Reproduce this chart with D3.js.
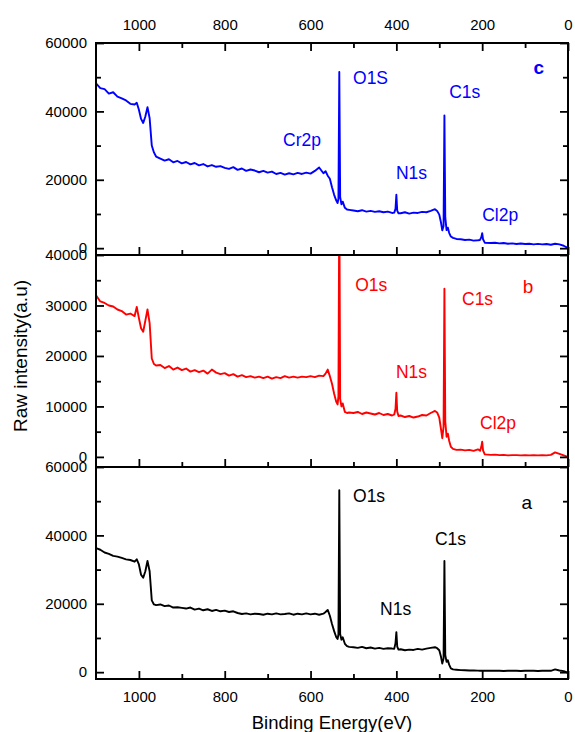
<!DOCTYPE html>
<html>
<head>
<meta charset="utf-8">
<script src="https://cdn.jsdelivr.net/npm/d3@7"></script>
<style>
  html, body { margin: 0; padding: 0; background: #fff; }
  svg { display: block; font-family: "Liberation Sans", Arial, sans-serif; }
</style>
</head>
<body>
<svg id="chart" width="575" height="732"></svg>
<script>
// ---------------- DATA ----------------
const energies = [
  1100,1090,1080,1070,1060,1050,1040,1030,1020,1010,
  1005,1000,995,990,985,980,975,970,965,960,
  950,940,930,920,910,900,890,880,870,860,850,840,830,820,810,800,790,780,770,760,750,740,730,720,710,700,690,680,670,660,650,640,630,620,610,600,590,580,570,
  565,560,555,550,545,540,537,535,533,531,528,525,520,515,510,
  500,490,480,470,460,450,440,430,420,410,
  405,402,400,398,395,
  390,380,370,360,350,340,330,320,310,
  305,300,296,293,290,288,286,283,280,277,273,268,260,
  250,240,230,220,210,
  205,202,200,198,194,
  180,170,160,150,140,130,120,110,100,90,80,70,60,50,40,30,20,10,0
];

// sample c (blue, top panel)
const intensityC = [
  48200,46800,46500,45200,45600,44300,43800,43200,42200,42000,
  42500,40500,37800,36600,38500,41200,38000,30000,28000,26800,
  26200,25600,26000,25100,25500,24800,25200,24500,24900,24200,24600,23900,24300,23800,24000,23500,23200,23700,22900,23300,22600,23000,22700,22200,22600,22100,22400,21700,22000,21500,21900,21600,22000,21700,22100,21800,22600,23600,21900,
  22500,21200,20300,17800,15600,13900,13200,14500,51500,15000,12800,13600,11800,11300,11200,
  11000,10800,11100,10700,10900,10600,10800,10500,10700,10300,
  10400,11500,15600,11000,10200,
  10200,10500,10100,10400,10300,10600,10500,10900,11400,
  10900,9800,7500,5200,6500,38800,9000,5300,6000,4500,3400,3000,2700,
  2600,2400,2500,2200,2300,
  2400,3200,4400,2600,1600,
  1500,1600,1400,1500,1300,1400,1200,1350,1200,1300,1100,1250,1100,1200,1000,1300,1100,700,0
];

// sample b (red, middle panel)
const intensityB = [
  32000,30800,30500,30000,29800,29200,28900,28200,28400,27900,
  29700,27500,25500,24800,27000,29200,26500,19500,18400,18100,
  18200,17600,18000,17300,17700,17200,17500,16900,17200,16800,17100,16500,17300,16700,16400,16600,16100,16400,15900,16200,15800,16000,15700,15900,15600,15900,15500,15800,15600,16000,15700,15900,15700,15900,15800,16000,15800,16100,16000,
  16500,17300,16000,14500,12500,10900,10400,12000,52000,11500,10000,10600,8900,8700,8800,
  8700,8900,8500,8800,8600,8400,8700,8300,8500,8200,
  8400,9500,12700,9000,8100,
  8200,7900,8100,7800,8000,8300,8200,8700,9100,
  8800,7800,5500,3700,6000,33300,7000,4000,4600,3200,2000,1600,1400,
  1450,1300,1400,1200,1500,
  1200,2000,3000,1300,500,
  400,450,350,400,300,350,350,300,350,300,350,300,350,300,400,900,600,300,0
];

// sample a (black, bottom panel)
const intensityA = [
  36300,35800,35000,34600,34000,33800,33400,33000,32800,32300,
  33000,31500,28500,27600,29500,32500,29500,21000,19800,19600,
  19800,19300,19500,18900,19000,18800,18600,18900,18300,18600,18100,18400,17900,18200,17800,18000,17600,17800,17300,17000,17200,16900,17100,17000,16800,17100,16900,17200,16900,17000,17200,16800,17100,16900,17200,16900,17100,16800,17100,
  17600,18200,16500,14100,12000,10200,9700,11000,53200,11200,9500,10200,8300,7600,7400,
  7300,7100,7400,7000,7200,6900,7100,6800,7000,6900,
  6800,8500,11700,7500,6600,
  6700,6400,6600,6500,6800,6600,6900,7100,7300,
  7000,6400,4500,2500,4000,32500,5000,3000,3500,2200,1100,800,700,
  600,550,500,500,450,
  400,450,400,450,400,
  400,450,400,350,400,450,400,350,400,450,400,350,400,450,400,800,500,300,-200
];

// axis ticks
const xMajorTicks = [1000, 800, 600, 400, 200, 0];
const xMinorTicks = [900, 700, 500, 300, 100];
const yTicks60k = [0, 20000, 40000, 60000];
const yMinor60k = [10000, 30000, 50000];
const yTicks40k = [0, 10000, 20000, 30000, 40000];
const yMinor40k = [5000, 15000, 25000, 35000];

// peak annotations: [text, energy, intensity]
const labelsC = [["Cr2p", 664, 31650], ["O1S", 501, 49780], ["N1s", 401, 22000], ["C1s", 277, 45690], ["Cl2p", 200, 9710]];
const labelsB = [["O1s", 496, 34050], ["C1s", 247, 31280], ["N1s", 401, 16820], ["Cl2p", 205, 6720]];
const labelsA = [["O1s", 501, 51540], ["C1s", 310, 38960], ["N1s", 438, 18490]];

// ---------------- CHART ----------------
const svg = d3.select("#chart");
const plotLeft = 96, plotRight = 568, plotTop = 43, panelH = 212;

const x = d3.scaleLinear().domain([1100, 0]).range([plotLeft, plotRight]);

const panels = [
  { id: "c", vals: intensityC, color: "#0000ff", domain: [-2000, 60000], major: yTicks60k, minor: yMinor60k, labels: labelsC, tag: ["c", 68, 52700], tagBold: true },
  { id: "b", vals: intensityB, color: "#ff0000", domain: [-2000, 40000], major: yTicks40k, minor: yMinor40k, labels: labelsB, tag: ["b", 93, 33850], tagBold: false },
  { id: "a", vals: intensityA, color: "#000000", domain: [-2000, 60000], major: yTicks60k, minor: yMinor60k, labels: labelsA, tag: ["a", 96, 49490], tagBold: false }
];

const tickFont = "15px";
const MAJ = 8, MIN = 5;

panels.forEach((p, i) => {
  const y0 = plotTop + i * panelH, y1 = y0 + panelH;
  const y = d3.scaleLinear().domain(p.domain).range([y1, y0]);
  const g = svg.append("g");

  svg.append("clipPath").attr("id", "clip" + p.id)
    .append("rect").attr("x", plotLeft).attr("y", y0).attr("width", plotRight - plotLeft).attr("height", panelH);

  const pts = energies.map((e, k) => [e, p.vals[k]]);
  const line = d3.line().x(d => x(d[0])).y(d => y(d[1]));
  g.append("path").datum(pts)
    .attr("clip-path", `url(#clip${p.id})`)
    .attr("fill", "none").attr("stroke", p.color).attr("stroke-width", 1.9)
    .attr("stroke-linejoin", "round")
    .attr("d", line);

  g.append("g").attr("transform", `translate(${plotLeft},0)`)
    .call(d3.axisLeft(y).tickValues(p.major).tickSize(-MAJ).tickPadding(9).tickFormat(d3.format("d")));
  g.append("g").attr("transform", `translate(${plotLeft},0)`)
    .call(d3.axisLeft(y).tickValues(p.minor).tickSize(-MIN).tickFormat(""));
  g.append("g").attr("transform", `translate(${plotRight},0)`)
    .call(d3.axisRight(y).tickValues(p.major).tickSize(-MAJ).tickFormat(""));
  g.append("g").attr("transform", `translate(${plotRight},0)`)
    .call(d3.axisRight(y).tickValues(p.minor).tickSize(-MIN).tickFormat(""));

  g.append("g").attr("transform", `translate(0,${y1})`)
    .call(d3.axisBottom(x).tickValues(xMajorTicks).tickSize(-MAJ).tickPadding(12)
      .tickFormat(i === 2 ? d3.format("d") : ""));
  g.append("g").attr("transform", `translate(0,${y1})`)
    .call(d3.axisBottom(x).tickValues(xMinorTicks).tickSize(-MIN).tickFormat(""));

  if (i === 0) {
    g.append("g").attr("transform", `translate(0,${y0})`)
      .call(d3.axisTop(x).tickValues(xMajorTicks).tickSize(-MAJ).tickPadding(13).tickFormat(d3.format("d")));
    g.append("g").attr("transform", `translate(0,${y0})`)
      .call(d3.axisTop(x).tickValues(xMinorTicks).tickSize(-MIN).tickFormat(""));
  }

  g.append("rect").attr("x", plotLeft).attr("y", y0).attr("width", plotRight - plotLeft).attr("height", panelH)
    .attr("fill", "none").attr("stroke", "#000").attr("stroke-width", 2);

  g.selectAll("text.peak").data(p.labels).enter().append("text")
    .attr("class", "peak")
    .attr("x", d => x(d[1])).attr("y", d => y(d[2]))
    .attr("dominant-baseline", "central")
    .attr("fill", p.color).attr("font-size", "17.5px")
    .text(d => d[0]);

  g.append("text")
    .attr("x", x(p.tag[1])).attr("y", y(p.tag[2]))
    .attr("text-anchor", "middle").attr("dominant-baseline", "central")
    .attr("fill", p.color).attr("font-size", "19px")
    .attr("font-weight", p.tagBold ? "bold" : "normal")
    .text(p.tag[0]);
});

svg.selectAll(".domain").remove();
svg.selectAll(".tick line").attr("stroke", "#000").attr("stroke-width", 1.8);
svg.selectAll(".tick text").attr("font-size", tickFont).attr("fill", "#000")
  .attr("font-family", "Liberation Sans, Arial, sans-serif");

svg.append("text")
  .attr("transform", "translate(27,356) rotate(-90)")
  .attr("text-anchor", "middle")
  .attr("font-size", "19px").attr("fill", "#000")
  .text("Raw intensity(a.u)");

svg.append("text")
  .attr("x", 332).attr("y", 729)
  .attr("text-anchor", "middle")
  .attr("font-size", "18.5px").attr("fill", "#000")
  .text("Binding Energy(eV)");
</script>
</body>
</html>
